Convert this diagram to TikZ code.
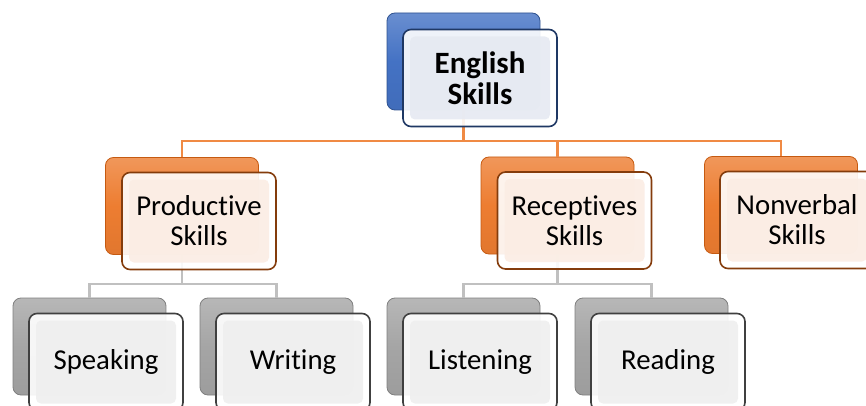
\documentclass[tikz,border=0pt]{standalone}
\usepackage{fontspec}
\setmainfont{Carlito}[Ligatures=NoCommon]
\usepackage{xcolor}
\usepackage{tikz}
\usetikzlibrary{arrows.meta}
\usetikzlibrary{positioning}
\definecolor{bluemain}{HTML}{4472C4}
\definecolor{blueedge}{HTML}{2F528F}
\definecolor{blueline}{HTML}{1F3864}
\definecolor{bluepale}{HTML}{E6EAF2}
\definecolor{orgmain}{HTML}{ED7D31}
\definecolor{orgedge}{HTML}{C55A11}
\definecolor{orgline}{HTML}{843C0C}
\definecolor{orgpale}{HTML}{FBEDE4}
\definecolor{orgconn}{HTML}{F08A44}
\definecolor{graymain}{HTML}{A5A5A5}
\definecolor{grayedge}{HTML}{7F7F7F}
\definecolor{grayline}{HTML}{404040}
\definecolor{graypale}{HTML}{EFEFEF}
\definecolor{grayconn}{HTML}{C0C0C0}

\tikzset{
  backbox/.style 2 args={draw=#2, line width=0.8pt, rounded corners=8pt,
    minimum width=153pt, minimum height=97pt,
    top color=#1!80!white, bottom color=#1!95!black, middle color=#1},
  frontbox/.style 2 args={draw=#1, line width=1.6pt, rounded corners=8pt,
    minimum width=154pt, minimum height=97pt, fill=white,
    fill opacity=0.9, text opacity=1, align=center,
    font=\fontsize{28.8}{30}\selectfont,
    path picture={\fill[#2, rounded corners=5pt]
      ([shift={(7pt,-7pt)}]path picture bounding box.north west) rectangle
      ([shift={(-7pt,7pt)}]path picture bounding box.south east);}},
  orconn/.style={draw=orgconn, line width=2.8pt},
  grconn/.style={draw=grayconn, line width=2.8pt}
}

\begin{document}
\begin{tikzpicture}[x=1pt,y=-1pt]
\useasboundingbox (0,0) rectangle (866,406);
\coordinate (busT) at (0,141);
\coordinate (busP) at (0,284);
\coordinate (busR) at (0,284);

\node[backbox={bluemain}{blueedge}] (engB) at (463.5,61.5) {};
\node[backbox={orgmain}{orgedge}] (prodB) at (182,206) {};
\node[backbox={orgmain}{orgedge}] (recB) at (557.5,205.5) {};
\node[backbox={orgmain}{orgedge}] (nonB) at (781,205) {};
\node[backbox={graymain}{grayedge}] (speakB) at (89.5,346.5) {};
\node[backbox={graymain}{grayedge}] (writB) at (276.5,346.5) {};
\node[backbox={graymain}{grayedge}] (listB) at (463.5,346.5) {};
\node[backbox={graymain}{grayedge}] (readB) at (651.5,346.5) {};

\draw[orconn] (engB.south) -- (engB.south |- busT);
\draw[orconn] (prodB.north) |- (nonB.north |- busT) -- (nonB.north);
\draw[orconn] (recB.north) -- (recB.north |- busT);
\draw[grconn] (prodB.south) -- (prodB.south |- busP);
\draw[grconn] (speakB.north) |- (writB.north |- busP) -- (writB.north);
\draw[grconn] (recB.south) -- (recB.south |- busR);
\draw[grconn] (listB.north) |- (readB.north |- busR) -- (readB.north);

\node[frontbox={blueline}{bluepale}, font=\fontsize{31}{31}\selectfont\bfseries] (engF) at (480,78) {English\\Skills};
\node[frontbox={orgline}{orgpale}] (prodF) at (199,221) {Productive\\Skills};
\node[frontbox={orgline}{orgpale}] (recF) at (574.5,220.5) {Receptives\\Skills};
\node[frontbox={orgline}{orgpale}] (nonF) at (797,220) {Nonverbal\\Skills};
\node[frontbox={grayline}{graypale}] (speakF) at (106,362) {Speaking};
\node[frontbox={grayline}{graypale}] (writF) at (293,362) {Writing};
\node[frontbox={grayline}{graypale}] (listF) at (480,362) {Listening};
\node[frontbox={grayline}{graypale}] (readF) at (668,362) {Reading};
\end{tikzpicture}
\end{document}
